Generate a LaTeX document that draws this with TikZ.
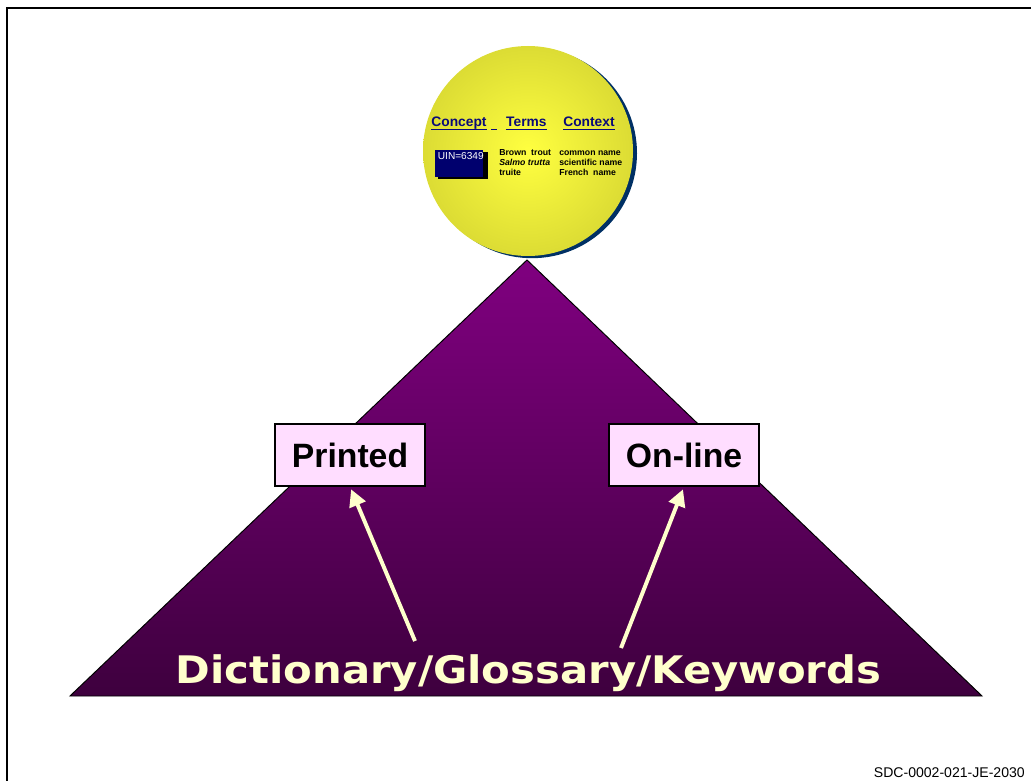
\documentclass[tikz,border=0pt]{standalone}
\usepackage{fontspec}
\setmainfont{Liberation Sans}
\newfontfamily\dictfont[FakeStretch=1.1]{DejaVu Sans}
\usetikzlibrary{arrows.meta}

\definecolor{purpletop}{RGB}{128,0,128}
\definecolor{purplebot}{RGB}{62,0,62}
\definecolor{sunmid}{RGB}{255,255,64}
\definecolor{sunrim}{RGB}{220,220,52}
\definecolor{sunshadow}{RGB}{0,48,100}
\definecolor{navyhead}{RGB}{10,10,120}
\definecolor{uinblue}{RGB}{0,0,110}
\definecolor{pinkbox}{RGB}{255,221,255}
\definecolor{paleyellow}{RGB}{255,255,204}

\tikzset{
    medium/.style={draw=black, line width=1pt, fill=pinkbox, minimum width=3.75cm,
        minimum height=1.55cm, font=\bfseries\fontsize{24}{28}\selectfont},
    colhead/.style={text=navyhead, inner sep=0pt, anchor=base,
        font=\bfseries\fontsize{9.8}{12}\selectfont},
    headline/.style={draw=navyhead, line width=1pt},
    uparrow/.style={draw=paleyellow, line width=2.8pt,
        -{Triangle[length=12pt,width=12pt]}, shorten >=2pt},
}

\begin{document}
\begin{tikzpicture}
    \useasboundingbox (0, 0) rectangle (25.775, 19.5);

    % page frame, runs off to the right and bottom
    \draw [line width=1.4pt] (0.175, -0.5) -- (0.175, 19.3) -- (26.5, 19.3);

    % the pyramid
    \shadedraw [top color=purpletop, bottom color=purplebot, draw=black, line width=0.7pt]
        (13.175, 13.0) -- (1.75, 2.1) -- (24.55, 2.1) -- cycle;

    % the dictionary record on top
    \fill [sunshadow] (13.3, 15.67) circle (2.625);
    \shade [inner color=sunmid, outer color=sunrim] (13.2, 15.725) circle (2.625);

    \node [colhead] (concept) at (11.475, 16.325) {Concept};
    \node [colhead] (terms) at (13.16, 16.325) {Terms};
    \node [colhead] (context) at (14.725, 16.325) {Context};
    \draw [headline] ([yshift=-1.6pt]concept.base west) -- ([yshift=-1.6pt]concept.base east);
    \draw [headline] ([xshift=3pt, yshift=-1.6pt]concept.base east) -- ++(4pt, 0);
    \draw [headline] ([yshift=-1.6pt]terms.base west) -- ([yshift=-1.6pt]terms.base east);
    \draw [headline] ([yshift=-1.6pt]context.base west) -- ([yshift=-1.6pt]context.base east);

    \fill [black] (10.95, 15.7) rectangle (12.2, 15.025);
    \fill [uinblue] (10.875, 15.75) rectangle (12.075, 15.075);
    \node [anchor=base west, inner sep=0pt, text=white, font=\fontsize{7.2}{8}\selectfont]
        (uin) at (10.94, 15.5) {UIN=6349};

    \node [anchor=base west, inner sep=0pt, font=\bfseries\fontsize{6.2}{7.1}\selectfont]
        (record) at (12.475, 15.6) {%
        \begin{tabular}[t]{@{}p{1.5cm}@{}l@{}}
            Brown\ \ trout & common name\\
            \textit{Salmo trutta} & scientific name\\
            truite & French\ \ name
        \end{tabular}};

    % the two media
    \node [medium] (printed) at (8.75, 8.125) {Printed};
    \node [medium] (online) at (17.1, 8.125) {On-line};

    \node [anchor=base, text=paleyellow, font=\dictfont\bfseries\fontsize{27}{32}\selectfont]
        (dict) at (13.21, 2.425) {Dictionary/Glossary/Keywords};

    \coordinate (printedfoot) at (10.375, 3.475);
    \coordinate (onlinefoot) at (15.525, 3.3);
    \draw [uparrow] (printedfoot) -- (printed.south);
    \draw [uparrow] (onlinefoot) -- (online.south);

    \node [anchor=base east, inner sep=0pt, font=\fontsize{10}{12}\selectfont]
        (docid) at (25.625, 0.075) {SDC-0002-021-JE-2030};
\end{tikzpicture}
\end{document}
